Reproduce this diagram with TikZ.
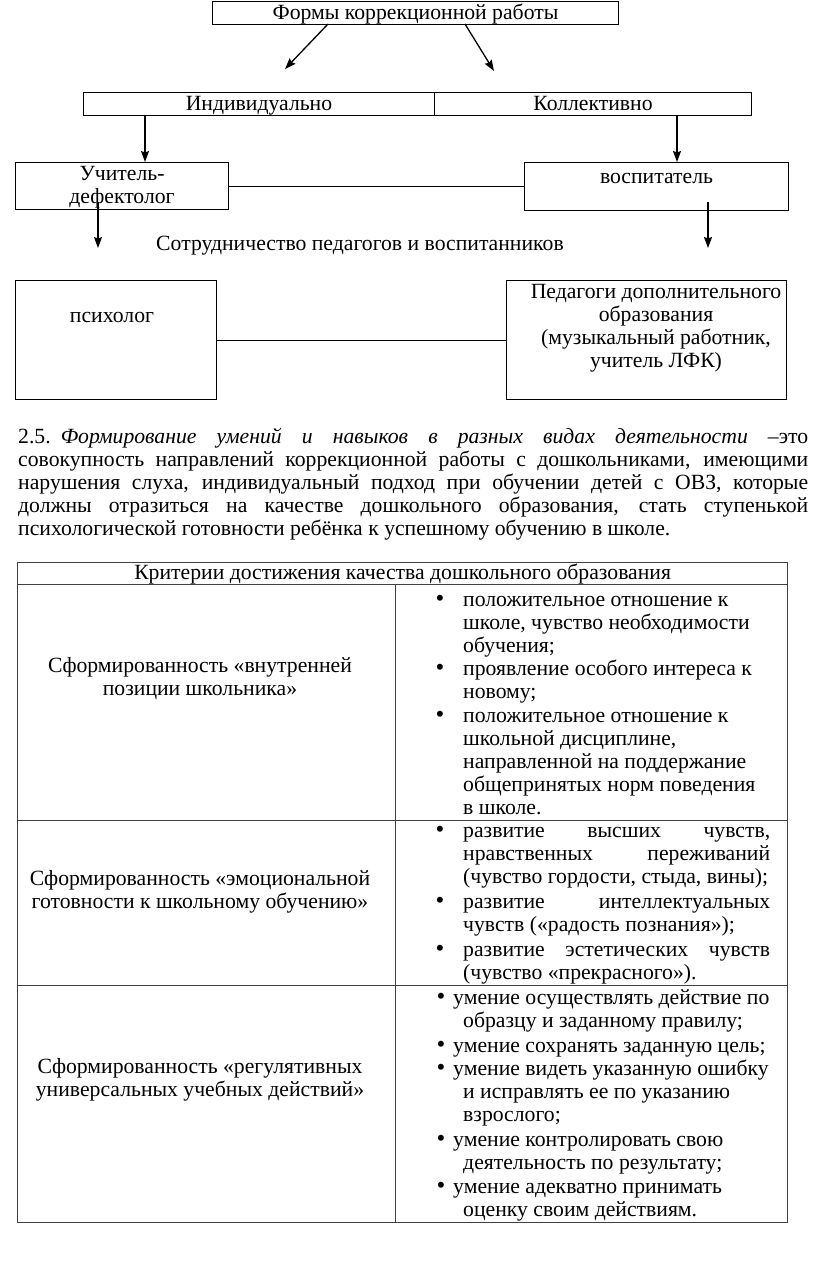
\documentclass[tikz,border=0pt]{standalone}
\usepackage{fontspec}
\setmainfont{Liberation Serif}
\usetikzlibrary{arrows.meta}
\newcommand{\Str}{\rule{0pt}{16.1pt}}
\begin{document}
\begin{tikzpicture}[x=1pt,y=-1pt,
  font=\fontsize{21.7}{23}\selectfont,
  box/.style={draw, line width=1pt, inner sep=0pt, anchor=north west},
  sbox/.style={box, text height=16pt, text depth=3.5pt},
  arr/.style={-{Stealth[length=11pt,width=8pt,inset=1.5pt]}, line width=1.3pt},
  conn/.style={line width=1pt},
  cell/.style={draw=black!75, line width=1.3pt, inner sep=0pt, anchor=north west},
  txt/.style={inner sep=0pt, anchor=north west, align=left},
  jtxt/.style={inner sep=0pt, anchor=north west, align=justify},
  bul/.style={inner sep=0pt, anchor=base, font=\fontsize{25}{23}\selectfont}]
\useasboundingbox (0,0) rectangle (816,1271);
% ---- top diagram
\node[sbox, minimum width=406pt, minimum height=23pt] (forms) at (212,1) {Формы коррекционной работы};
\node[sbox, minimum width=351pt, minimum height=23pt] (ind) at (83,92) {Индивидуально};
\node[sbox, minimum width=317pt, minimum height=23pt] (col) at (434,92) {Коллективно};
\coordinate (f1) at (328,24);
\coordinate (f2) at (465,24);
\coordinate (t1) at (285,69);
\coordinate (t2) at (494,71);
\draw[arr] (f1) -- (t1);
\draw[arr] (f2) -- (t2);
\node[box, minimum width=213pt, minimum height=47pt, align=center] (uch) at (15,162) {\Str Учитель-\\дефектолог};
\node[box, minimum width=264pt, minimum height=48pt, align=center] (vos) at (524,162) {\Str воспитатель\\\mbox{}};
\coordinate (i1) at (145,115);
\coordinate (c1) at (677,115);
\draw[arr] (i1) -- (i1 |- uch.north);
\draw[arr] (c1) -- (c1 |- vos.north);
\draw[conn] (uch.east) -- (uch.east -| vos.west);
\coordinate (u1) at (98,202);
\coordinate (u2) at (98,248);
\coordinate (v1) at (708,202);
\coordinate (v2) at (708,248);
\draw[arr] (u1) -- (u2);
\draw[arr] (v1) -- (v2);
\node[inner sep=0pt] (coop) at (360,246) {Сотрудничество педагогов и воспитанников};
\node[box, minimum width=201pt, minimum height=119pt] (psy) at (15,280) {};
\node[inner sep=0pt] (psyt) at (112,317) {психолог};
\node[box, minimum width=280pt, minimum height=119pt] (ped) at (506,280) {};
\node[inner sep=0pt, align=center] (pedt) at (656,328) {Педагоги дополнительного\\образования\\(музыкальный работник,\\учитель ЛФК)};
\draw[conn] (psy.east) -- (psy.east -| ped.west);
% ---- paragraph
\node[jtxt, text width=790pt] (par) at (18,427) {\Str 2.5.\hspace{10pt}\textit{Формирование умений и навыков в разных видах деятельности} –это\linebreak
совокупность направлений коррекционной работы с дошкольниками, имеющими\linebreak
нарушения слуха, индивидуальный подход при обучении детей с ОВЗ, которые\linebreak
должны отразиться на качестве дошкольного образования, стать ступенькой\linebreak
психологической готовности ребёнка к успешному обучению в школе.};
% ---- table
\node[cell, minimum width=770pt, minimum height=22pt, text height=16pt, text depth=3.5pt] (hdr) at (17,562) {Критерии достижения качества дошкольного образования};
\node[cell, minimum width=378pt, minimum height=236pt] (r1l) at (17,584) {};
\node[cell, minimum width=392pt, minimum height=236pt] (r1r) at (395,584) {};
\node[cell, minimum width=378pt, minimum height=165pt] (r2l) at (17,820) {};
\node[cell, minimum width=392pt, minimum height=165pt] (r2r) at (395,820) {};
\node[cell, minimum width=378pt, minimum height=237pt] (r3l) at (17,985) {};
\node[cell, minimum width=392pt, minimum height=237pt] (r3r) at (395,985) {};
\node[inner sep=0pt, align=center] (l1) at (200,679) {Сформированность «внутренней\\позиции школьника»};
\node[inner sep=0pt, align=center] (l2) at (200,892) {Сформированность «эмоциональной\\готовности к школьному обучению»};
\node[inner sep=0pt, align=center] (l3) at (200,1080) {Сформированность «регулятивных\\универсальных учебных действий»};
% row 1 bullets
\node[bul] (b11) at (440,606) {•};
\node[txt] (a11) at (463,590) {\Str положительное отношение к\\школе, чувство необходимости\\обучения;};
\node[bul] (b12) at (440,675) {•};
\node[txt] (a12) at (463,659) {\Str проявление особого интереса к\\новому;};
\node[bul] (b13) at (440,722) {•};
\node[txt] (a13) at (463,706) {\Str положительное отношение к\\школьной дисциплине,\\направленной на поддержание\\общепринятых норм поведения\\в школе.};
% row 2 bullets
\node[bul] (b21) at (440,837) {•};
\node[jtxt, text width=307pt] (a21) at (463,821) {\Str развитие высших чувств,\linebreak нравственных переживаний\linebreak (чувство гордости, стыда, вины);};
\node[bul] (b22) at (440,908) {•};
\node[jtxt, text width=307pt] (a22) at (463,892) {\Str развитие интеллектуальных\linebreak чувств («радость познания»);};
\node[bul] (b23) at (440,956) {•};
\node[jtxt, text width=307pt] (a23) at (463,940) {\Str развитие эстетических чувств\linebreak (чувство «прекрасного»).};
% row 3 bullets
\node[bul] (b31) at (441,1004) {•};
\node[txt] (a31) at (453,988) {\Str умение осуществлять действие по\\\hspace*{10pt}образцу и заданному правилу;};
\node[bul] (b32) at (441,1052) {•};
\node[txt] (a32) at (453,1036) {\Str умение сохранять заданную цель;};
\node[bul] (b33) at (441,1075) {•};
\node[txt] (a33) at (453,1059) {\Str умение видеть указанную ошибку\\\hspace*{10pt}и исправлять ее по указанию\\\hspace*{10pt}взрослого;};
\node[bul] (b34) at (441,1146) {•};
\node[txt] (a34) at (453,1130) {\Str умение контролировать свою\\\hspace*{10pt}деятельность по результату;};
\node[bul] (b35) at (441,1193) {•};
\node[txt] (a35) at (453,1177) {\Str умение адекватно принимать\\\hspace*{10pt}оценку своим действиям.};
\end{tikzpicture}
\end{document}
